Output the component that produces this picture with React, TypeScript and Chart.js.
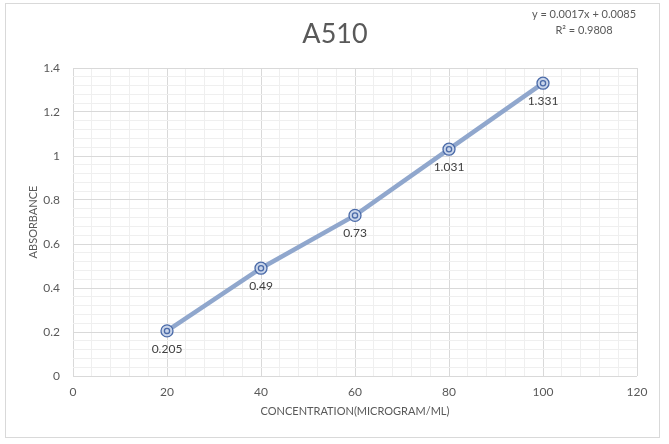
import React, { useEffect, useRef } from "react";
import { Chart, registerables } from "chart.js";

Chart.register(...registerables);

const concentrations = [20, 40, 60, 80, 100];
const absorbance = [0.205, 0.49, 0.73, 1.031, 1.331];
const dataLabels = ["0.205", "0.49", "0.73", "1.031", "1.331"];
const chartTitle = "A510";
const equationLines = ["y = 0.0017x + 0.0085", "R² = 0.9808"];
const xAxisTitle = "CONCENTRATION(MICROGRAM/ML)";
const yAxisTitle = "ABSORBANCE";

const FONT = "Lato, 'Open Sans', sans-serif";
const TEXT = "#595959";

const decorPlugin = {
  id: "decor",
  beforeDraw(chart: any) {
    const { ctx, width, height } = chart;
    ctx.save();
    ctx.fillStyle = "#ffffff";
    ctx.fillRect(0, 0, width, height);
    ctx.strokeStyle = "#d9d9d9";
    ctx.lineWidth = 1;
    ctx.strokeRect(5.5, 3.5, 654, 434);
    ctx.restore();
  },
  afterDatasetsDraw(chart: any) {
    const { ctx, chartArea } = chart;
    const meta = chart.getDatasetMeta(0);
    ctx.save();
    meta.data.forEach((pt: any) => {
      ctx.beginPath();
      ctx.arc(pt.x, pt.y, 2.6, 0, Math.PI * 2);
      ctx.strokeStyle = "#4a6aa8";
      ctx.lineWidth = 1.3;
      ctx.stroke();
    });
    ctx.fillStyle = "#404040";
    ctx.font = `12px ${FONT}`;
    ctx.textAlign = "center";
    ctx.textBaseline = "middle";
    meta.data.forEach((pt: any, i: number) => {
      ctx.fillText(dataLabels[i], pt.x, pt.y + 18);
    });
    ctx.fillStyle = TEXT;
    ctx.font = `27px ${FONT}`;
    ctx.fillText(chartTitle, 335, 34);
    ctx.font = `11px ${FONT}`;
    ctx.fillText(equationLines[0], 584, 14);
    ctx.fillText(equationLines[1], 584, 30);
    const cx = (chartArea.left + chartArea.right) / 2;
    const cy = (chartArea.top + chartArea.bottom) / 2;
    ctx.fillText(xAxisTitle, cx, 411);
    ctx.translate(33, cy);
    ctx.rotate(-Math.PI / 2);
    ctx.fillText(yAxisTitle, 0, 0);
    ctx.restore();
  },
};

const isMajorX = (v: number) => Math.round(v) % 20 === 0;
const isMajorY = (v: number) => Math.round(v * 100) % 20 === 0;

export default function App() {
  const ref = useRef<HTMLCanvasElement>(null);
  useEffect(() => {
    if (!ref.current) return;
    const chart = new Chart(ref.current, {
      type: "scatter",
      data: {
        datasets: [
          {
            data: concentrations.map((x, i) => ({ x, y: absorbance[i] })),
            showLine: true,
            borderColor: "rgba(138,162,202,0.95)",
            borderWidth: 4.5,
            pointRadius: 6,
            pointBorderWidth: 1.3,
            pointBorderColor: "#4a6aa8",
            pointBackgroundColor: "#c9d5ea",
          } as any,
        ],
      },
      options: {
        animation: false,
        responsive: false,
        layout: { padding: { top: 68, right: 32, left: 0, bottom: 0 } },
        plugins: { legend: { display: false }, tooltip: { enabled: false }, title: { display: false } },
        scales: {
          x: {
            type: "linear",
            min: 0,
            max: 120,
            afterFit: (s: any) => {
              s.height = 68;
            },
            border: { display: false },
            grid: {
              drawTicks: false,
              color: (c: any) => (isMajorX(c.tick.value) ? "#d9d9d9" : "#efefef"),
            },
            ticks: {
              stepSize: 4,
              autoSkip: false,
              maxRotation: 0,
              padding: 9,
              color: TEXT,
              font: { family: FONT, size: 12 },
              callback: (v: any) => (isMajorX(Number(v)) ? String(v) : ""),
            },
          },
          y: {
            type: "linear",
            min: 0,
            max: 1.4,
            afterFit: (s: any) => {
              s.width = 73;
            },
            border: { display: false },
            grid: {
              drawTicks: false,
              color: (c: any) => (isMajorY(c.tick.value) ? "#d9d9d9" : "#efefef"),
            },
            ticks: {
              stepSize: 0.04,
              autoSkip: false,
              padding: 13,
              color: TEXT,
              font: { family: FONT, size: 12 },
              callback: (v: any) => {
                const n = Number(v);
                return isMajorY(n) ? String(Math.round(n * 10) / 10) : "";
              },
            },
          },
        },
      },
      plugins: [decorPlugin],
    });
    return () => chart.destroy();
  }, []);
  return (
    <div style={{ position: "fixed", left: 0, top: 0, width: 669, height: 444, background: "#fff" }}>
      <canvas ref={ref} width={669} height={444} style={{ width: 669, height: 444, display: "block" }} />
    </div>
  );
}
